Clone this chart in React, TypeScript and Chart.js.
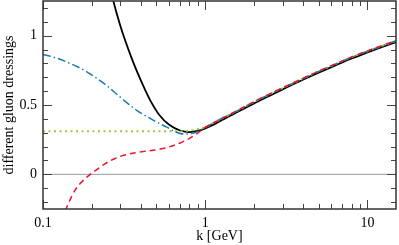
import React, { useEffect, useRef } from "react";
import { Chart, registerables } from "chart.js";
Chart.register(...registerables);

const xMin = 0.1;
const xMax = 15;
const yMin = -0.25;
const yMax = 1.25;
const xTickLabels = [0.1, 1, 10];
const xMinorTicks = [0.2, 0.3, 0.4, 0.5, 0.6, 0.7, 0.8, 0.9, 2, 3, 4, 5, 6, 7, 8, 9];
const yTickLabels = [0, 0.5, 1];
const yMinorTicks = [-0.2, -0.1, 0.1, 0.2, 0.3, 0.4, 0.6, 0.7, 0.8, 0.9, 1.1, 1.2];

const kBlack = [0.265, 0.28, 0.3, 0.32, 0.35, 0.38, 0.42, 0.46, 0.52, 0.6, 0.7, 0.8, 0.9, 1.0, 1.2, 1.5, 2, 2.5, 3, 4, 5, 6, 8, 10, 12, 15];
const black = [1.3, 1.19, 1.07, 0.97, 0.845, 0.74, 0.625, 0.53, 0.43, 0.357, 0.316, 0.305, 0.313, 0.332, 0.376, 0.436, 0.512, 0.568, 0.613, 0.682, 0.733, 0.773, 0.836, 0.879, 0.913, 0.953];

const kBlue = [0.1, 0.12, 0.15, 0.18, 0.21, 0.25, 0.29, 0.33, 0.38, 0.44, 0.5, 0.58, 0.65, 0.7, 0.75, 0.85, 0.92, 1.0, 1.2, 1.5, 2, 2.5, 3, 4, 5, 6, 8, 10, 12, 15];
const blue = [0.865, 0.84, 0.795, 0.75, 0.7, 0.635, 0.57, 0.515, 0.46, 0.415, 0.378, 0.34, 0.308, 0.295, 0.29, 0.298, 0.315, 0.338, 0.39, 0.445, 0.522, 0.578, 0.622, 0.69, 0.742, 0.782, 0.845, 0.888, 0.922, 0.962];

const kGreen = [0.1, 0.3, 0.5, 0.65, 0.75, 0.85, 0.95, 1.0, 1.2, 1.5, 2, 2.5, 3, 4, 5, 6, 8, 10, 12, 15];
const green = [0.31, 0.31, 0.31, 0.31, 0.312, 0.32, 0.333, 0.34, 0.39, 0.445, 0.522, 0.578, 0.622, 0.69, 0.742, 0.782, 0.845, 0.888, 0.922, 0.962];

const kRed = [0.13, 0.1386, 0.148, 0.158, 0.17, 0.183, 0.1955, 0.21, 0.225, 0.241, 0.26, 0.28, 0.306, 0.34, 0.38, 0.426, 0.48, 0.53, 0.6, 0.7, 0.8, 0.9, 1.0, 1.25, 1.5, 2, 2.5, 3, 4, 5, 6, 8, 10, 12, 15];
const red = [-0.33, -0.25, -0.175, -0.112, -0.065, -0.028, 0.0, 0.027, 0.052, 0.076, 0.098, 0.116, 0.133, 0.147, 0.158, 0.166, 0.174, 0.182, 0.198, 0.226, 0.26, 0.298, 0.338, 0.398, 0.447, 0.524, 0.58, 0.624, 0.692, 0.744, 0.784, 0.847, 0.89, 0.924, 0.964];

const zeroLineX = [xMin, xMax];
const zeroLineY = [0, 0];

const pts = (xs: number[], ys: number[]) => xs.map((x, i) => ({ x, y: ys[i] }));

const FONT = "'Liberation Serif', 'Times New Roman', serif";

const frameTicks = {
  id: "frameTicks",
  afterDatasetsDraw(chart: any) {
    const { ctx, chartArea } = chart;
    const { left, right, top, bottom } = chartArea;
    const xs = chart.scales.x;
    const ys = chart.scales.y;
    ctx.save();
    ctx.strokeStyle = "#444";
    ctx.lineWidth = 1;
    const line = (x1: number, y1: number, x2: number, y2: number) => {
      ctx.beginPath();
      ctx.moveTo(x1, y1);
      ctx.lineTo(x2, y2);
      ctx.stroke();
    };
    const xt = (v: number, len: number) => {
      const p = Math.round(xs.getPixelForValue(v)) + 0.5;
      line(p, bottom, p, bottom - len);
      line(p, top, p, top + len);
    };
    const yt = (v: number, len: number) => {
      const p = Math.round(ys.getPixelForValue(v)) + 0.5;
      line(left, p, left + len, p);
      line(right, p, right - len, p);
    };
    xTickLabels.forEach((v) => xt(v, 9));
    xMinorTicks.forEach((v) => xt(v, 5));
    yTickLabels.forEach((v) => yt(v, 9));
    yMinorTicks.forEach((v) => yt(v, 5));
    ctx.strokeStyle = "#333";
    ctx.lineWidth = 1.5;
    ctx.strokeRect(left, top, right - left, bottom - top);
    ctx.restore();
  },
};

export default function App() {
  const ref = useRef<HTMLCanvasElement | null>(null);
  useEffect(() => {
    if (!ref.current) return;
    Chart.defaults.font.family = FONT;
    const chart = new Chart(ref.current, {
      type: "line",
      data: {
        datasets: [
          {
            data: pts(kRed, red),
            borderColor: "#e8152b",
            borderWidth: 1.5,
            borderDash: [6, 4],
            pointRadius: 0,
            cubicInterpolationMode: "monotone",
          },
          {
            data: pts(kBlue, blue),
            borderColor: "#1a7ab5",
            borderWidth: 1.5,
            borderDash: [8, 3, 1.5, 3],
            pointRadius: 0,
            cubicInterpolationMode: "monotone",
          },
          {
            data: pts(kGreen, green),
            borderColor: "#9acd32",
            borderWidth: 2,
            borderDash: [2, 3.5],
            pointRadius: 0,
            cubicInterpolationMode: "monotone",
          },
          {
            data: pts(kBlack, black),
            borderColor: "#000",
            borderWidth: 1.8,
            pointRadius: 0,
            cubicInterpolationMode: "monotone",
          },
          {
            data: pts(zeroLineX, zeroLineY),
            borderColor: "#999",
            borderWidth: 1,
            pointRadius: 0,
          },
        ] as any,
      },
      plugins: [frameTicks],
      options: {
        animation: false,
        responsive: true,
        maintainAspectRatio: false,
        layout: { padding: { top: 1, right: 3, left: 0, bottom: 0 } },
        plugins: { legend: { display: false }, tooltip: { enabled: false } },
        scales: {
          x: {
            type: "logarithmic",
            min: xMin,
            max: xMax,
            afterBuildTicks: (s: any) => {
              s.ticks = xTickLabels.map((v) => ({ value: v }));
            },
            afterFit: (s: any) => {
              s.height = 36;
              s.paddingLeft = 0;
              s.paddingRight = 0;
            },
            grid: { display: false, drawTicks: false },
            border: { display: false },
            ticks: {
              color: "#000",
              font: { size: 14, family: FONT },
              padding: 6,
              maxRotation: 0,
              autoSkip: false,
              callback: (v: any) => String(v),
            },
            title: {
              display: true,
              text: "k [GeV]",
              color: "#000",
              font: { size: 14, family: FONT },
              padding: { top: 0, bottom: 0 },
            },
          },
          y: {
            type: "linear",
            min: yMin,
            max: yMax,
            afterBuildTicks: (s: any) => {
              s.ticks = yTickLabels.map((v) => ({ value: v }));
            },
            afterFit: (s: any) => {
              s.width = 43;
              s.paddingTop = 0;
              s.paddingBottom = 0;
            },
            grid: { display: false, drawTicks: false },
            border: { display: false },
            ticks: {
              color: "#000",
              font: { size: 14, family: FONT },
              padding: 6,
              autoSkip: false,
              callback: (v: any) => String(v),
            },
            title: {
              display: true,
              text: "different gluon dressings",
              color: "#000",
              font: { size: 14, family: FONT },
              padding: { top: 1, bottom: 0 },
            },
          },
        },
      } as any,
    });
    return () => chart.destroy();
  }, []);
  return (
    <div style={{ position: "fixed", left: 0, top: 0, width: 399, height: 245 }}>
      <canvas ref={ref} />
    </div>
  );
}
